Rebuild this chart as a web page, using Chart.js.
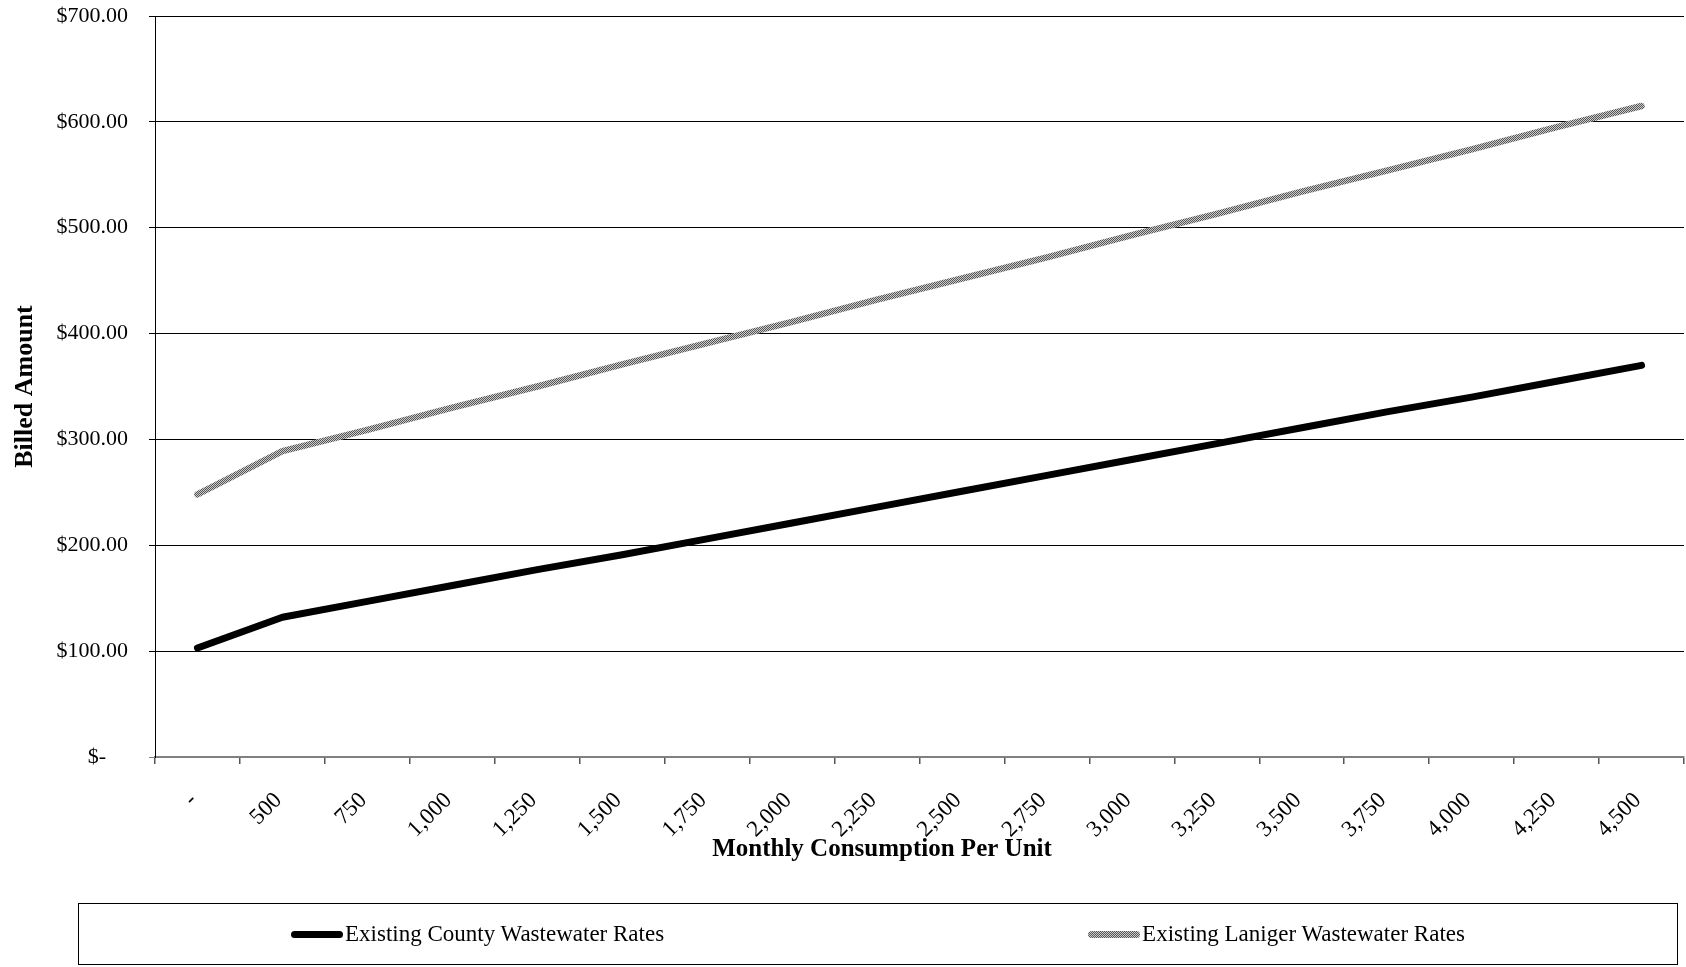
<!DOCTYPE html>
<html>
<head>
<meta charset="utf-8">
<title>Wastewater Rates – Billed Amount</title>
<script src="https://cdn.jsdelivr.net/npm/chart.js@4/dist/chart.umd.min.js"></script>
<style>
  html, body { margin: 0; padding: 0; background: #fff; }
  #wrap { position: relative; width: 1686px; height: 967px; overflow: hidden; }
  #wrap canvas { position: absolute; left: 0; top: 0; }
  #legend {
    position: absolute; left: 78px; top: 903px; width: 1600px; height: 62px;
    box-sizing: border-box; border: 1px solid #000;
    display: flex; align-items: center; justify-content: center; gap: 424px;
    font: 23px 'Liberation Serif', 'Times New Roman', serif; color: #000;
  }
  #legend .item { display: flex; align-items: center; white-space: nowrap; }
  #legend .swatch { width: 52px; height: 7px; border-radius: 4px; margin-right: 2px; }
</style>
</head>
<body>
<div id="wrap">
  <canvas id="chart" width="1686" height="967"></canvas>
  <div id="legend"></div>
</div>
<script>
const SERIF = "'Liberation Serif', 'Times New Roman', serif";

// monthly consumption per unit (category axis)
const consumption = [0, 500, 750, 1000, 1250, 1500, 1750, 2000, 2250, 2500, 2750, 3000, 3250, 3500, 3750, 4000, 4250, 4500];
// billed amount, $
const countyRates  = [103, 132, 147, 162, 177, 191, 206, 221, 236, 251, 266, 281, 296, 311, 326, 340, 355, 370];
const lanigerRates = [248, 289, 309, 330, 350, 371, 391, 411, 432, 452, 472, 493, 513, 534, 554, 574, 595, 615];
const billedTicks  = [0, 100, 200, 300, 400, 500, 600, 700];

const fmtUnits = n => n === 0 ? '-' : n.toLocaleString('en-US');
const fmtMoney = v => v === 0 ? '$-    ' : '$' + v.toFixed(2);

// speckled grey used for the Laniger line
function dither(dark, light){
  const c = document.createElement('canvas');
  c.width = c.height = 2;
  const g = c.getContext('2d');
  g.fillStyle = light; g.fillRect(0, 0, 2, 2);
  g.fillStyle = dark;  g.fillRect(0, 0, 1, 1); g.fillRect(1, 1, 1, 1);
  return c;
}
const greyTile = dither('#555555', '#cccccc');
const ctx = document.getElementById('chart').getContext('2d');
const greyPattern = ctx.createPattern(greyTile, 'repeat');

Chart.defaults.font.family = SERIF;
Chart.defaults.color = '#000';

const lineStyle = { pointRadius: 0, tension: 0, borderCapStyle: 'round', borderJoinStyle: 'round', fill: false };

const chart = new Chart(ctx, {
  type: 'line',
  data: {
    labels: consumption.map(fmtUnits),
    datasets: [
      { label: 'Existing County Wastewater Rates', data: countyRates, borderColor: '#000', borderWidth: 7, swatch: '#000', ...lineStyle },
      { label: 'Existing Laniger Wastewater Rates', data: lanigerRates, borderColor: greyPattern, borderWidth: 6.5, swatch: `url(${greyTile.toDataURL()})`, ...lineStyle }
    ]
  },
  options: {
    responsive: false,
    devicePixelRatio: 1,
    animation: false,
    layout: { padding: { left: 0, right: 2, top: 16, bottom: 102.4 } },
    plugins: { legend: { display: false }, tooltip: { enabled: false } },
    scales: {
      x: {
        offset: true,
        grid: { offset: true, drawOnChartArea: false, tickLength: 7, tickColor: '#555', lineWidth: 1.5 },
        border: { color: '#808080', width: 2 },
        ticks: { autoSkip: false, minRotation: 45, maxRotation: 45, padding: 23, labelOffset: -4, font: { size: 23 } },
        title: {
          display: true,
          text: 'Monthly Consumption Per Unit            ',
          font: { size: 25, weight: 'bold' },
          padding: { top: 0, bottom: 0 }
        },
        afterFit: s => { s.height = 107.6; }
      },
      y: {
        min: 0, max: 700,
        afterBuildTicks: axis => { axis.ticks = billedTicks.map(v => ({ value: v })); },
        grid: { color: ctx => ctx.tick && ctx.tick.value === 0 ? '#808080' : '#000', lineWidth: 1, tickLength: 6 },
        border: { color: '#000', width: 1 },
        ticks: { padding: 21, font: { size: 22 }, callback: v => fmtMoney(v) },
        title: {
          display: true,
          text: 'Billed Amount',
          font: { size: 26, weight: 'bold' },
          padding: { top: 10, bottom: 0 }
        },
        afterFit: s => { s.width = 155; s.paddingTop = 0; s.paddingBottom = 0; }
      }
    }
  }
});

// legend row under the plot
const legend = document.getElementById('legend');
chart.data.datasets.forEach(ds => {
  const item = document.createElement('div');
  item.className = 'item';
  item.innerHTML = `<span class="swatch" style="background:${ds.swatch}"></span><span>${ds.label}</span>`;
  legend.appendChild(item);
});
</script>
</body>
</html>
